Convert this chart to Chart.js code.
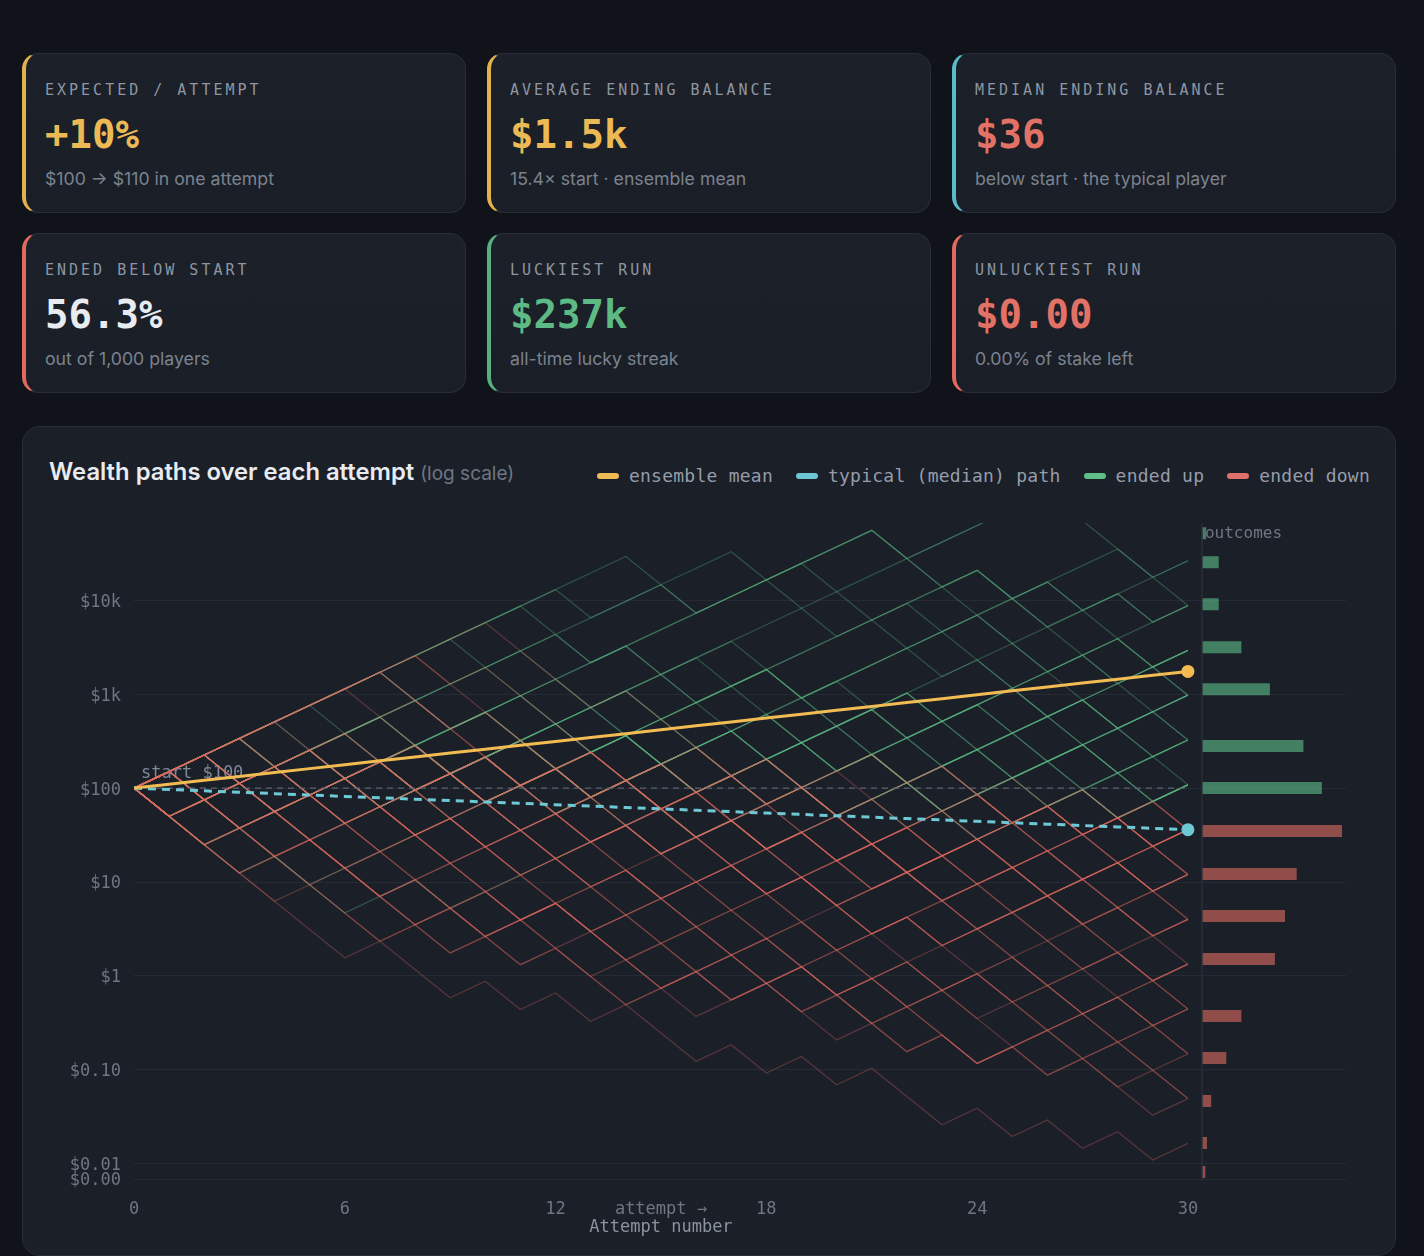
<!DOCTYPE html>
<html>
<head>
<meta charset="utf-8">
<script src="https://cdn.jsdelivr.net/npm/chart.js@4.4.1/dist/chart.umd.min.js"></script>
<style>
  body{margin:0;background:#10131a;width:1424px;height:1256px;overflow:hidden;font-family:Inter,"Noto Sans",sans-serif;position:relative;}
  .card{position:absolute;width:444px;height:160px;box-sizing:border-box;border:1px solid #282e38;border-left:4px solid #e3b24f;border-radius:16px;background:linear-gradient(180deg,#1b2029,#1a1e27);padding:27px 0 0 19px;}
  .lbl{font-family:"DejaVu Sans Mono",monospace;font-size:15px;line-height:18px;letter-spacing:3px;color:#8e96a3;}
  .val{font-family:"DejaVu Sans Mono",monospace;font-weight:bold;font-size:39px;line-height:46px;margin-top:13px;}
  .sub{font-size:17.7px;line-height:20px;margin-top:11px;color:#7b838f;}
  .panel{position:absolute;left:22px;top:426px;width:1374px;height:830px;box-sizing:border-box;border:1px solid #282e38;border-radius:18px;background:#1b1f28;}
  .title{position:absolute;left:49px;top:457px;font-size:23.8px;font-weight:600;color:#e8ebf0;line-height:30px;}
  .title span{font-size:19px;font-weight:400;color:#6e7682;}
  .legend{position:absolute;right:54px;top:464px;display:flex;align-items:center;font-family:"DejaVu Sans Mono",monospace;font-size:18px;line-height:24px;letter-spacing:.24px;color:#959daa;}
  .legend i{display:block;width:22px;height:6px;border-radius:3px;margin:0 10px 0 23px;}
  .legend i:first-child{margin-left:0;}
  canvas{position:absolute;left:40px;top:500px;}
</style>
</head>
<body>
<div class="card" style="left:22px;top:53px;border-left-color:#e3b24f"><div class="lbl">EXPECTED / ATTEMPT</div><div class="val" style="color:#ecba55">+10%</div><div class="sub">$100 → $110 in one attempt</div></div>
<div class="card" style="left:487px;top:53px;border-left-color:#e3b24f"><div class="lbl">AVERAGE ENDING BALANCE</div><div class="val" style="color:#ecba55">$1.5k</div><div class="sub">15.4× start · ensemble mean</div></div>
<div class="card" style="left:952px;top:53px;border-left-color:#5bbcc9"><div class="lbl">MEDIAN ENDING BALANCE</div><div class="val" style="color:#e27266">$36</div><div class="sub">below start · the typical player</div></div>
<div class="card" style="left:22px;top:233px;border-left-color:#e06a5f"><div class="lbl">ENDED BELOW START</div><div class="val" style="color:#e8ebf0">56.3%</div><div class="sub">out of 1,000 players</div></div>
<div class="card" style="left:487px;top:233px;border-left-color:#57b17f"><div class="lbl">LUCKIEST RUN</div><div class="val" style="color:#5dba84">$237k</div><div class="sub">all-time lucky streak</div></div>
<div class="card" style="left:952px;top:233px;border-left-color:#e06a5f"><div class="lbl">UNLUCKIEST RUN</div><div class="val" style="color:#e27266">$0.00</div><div class="sub">0.00% of stake left</div></div>

<div class="panel"></div>
<div class="title">Wealth paths over each attempt <span>(log scale)</span></div>
<div class="legend"><i style="background:#efbb55"></i><span>ensemble mean</span><i style="background:#6cc6d4"></i><span>typical (median) path</span><i style="background:#5fbf88"></i><span>ended up</span><i style="background:#e0706a"></i><span>ended down</span></div>
<canvas id="wealth" width="1340" height="745"></canvas>

<script>
// game: +50% on a win, -50% on a loss, start with $100
const START = 100, UP = 1.5, DOWN = 0.5;

const attempts = [0,1,2,3,4,5,6,7,8,9,10,11,12,13,14,15,16,17,18,19,20,21,22,23,24,25,26,27,28,29,30];

// ensemble mean and typical (median) path, per attempt
const meanPath = [100,110,121,133.1,146.4,161.1,177.2,194.9,214.4,235.8,259.4,285.3,313.8,345.2,379.7,417.7,
  459.5,505.4,556,611.6,672.7,740,814,895.4,985,1083.5,1191.8,1311,1442.1,1586.3,1744.9];
const medianPath = [100,96.66,93.43,90.31,87.29,84.37,81.55,78.83,76.19,73.65,71.19,68.81,66.51,64.28,62.14,60.06,
  58.05,56.11,54.24,52.43,50.67,48.98,47.35,45.76,44.23,42.76,41.33,39.95,38.61,37.32,36.08];

// sample players, U = win, D = loss, one letter per attempt
const paths = [
  'DDDDD DUDDU DUDUD DUDUD UDDUD UDUDU',
  'DDDDU DDUDU DUDDU UDUDD UDUDU DUDDU',
  'DUDDD DDUDU UDDDU DUUDU DDUDU DUDUD',
  'UDDDD UDDUD DUDUU DUDDU UDUUD DUDUD',
  'DDUDU DDDUD UDUDD UDUUD DUDDU UDUDU',
  'DUDUD DDUDD UUDUD DUDUD UUDUD DUUDU',
  'UUDDD DUDDU UDDUD UDUUD DDUDU UDUDU',
  'DDDUU DUDUD DUDDU UDUDU DUDUD UDUUD',
  'UDUDD UDUDU DDUDU UDUDD UUDUD UDUDU',
  'UUDUD DDUDU UDDUD DUUDU DUDUU DDUDU',
  'DUUUD UDDDU DUDUD UDDUD UUDDU DUUUD',
  'UDUUD DUDUD UUDDU DUDUU DUDUD UUDDU',
  'UUUDU DUDDD UDUUD UDUDD UUDUD DUUDU',
  'DUDUU UDDUD DUDUD UUDUD DUUDU UDUDU',
  'UUDUU UUDDD DUDUU DUDUD UDUUD UDUDU',
  'UUUUU UDUDD DUDDD UUDUD UDUUD UUDUD',
  'UDUUD UUDUD DUDUU DUDUD UDUDU DUUDU',
  'DUUDU UDUUD UDDUD UUDUU DUDUU DUDUD',
  'UUUUU UUUDD DDUDD DUDUD UDUDU UDUDU',
  'UUUUU UUUUU DDDUD DDUDU UDUDU DUDDU',
  'UDUUU DUDUU DUUDU UDUDD UUDUD UDUUD',
  'UUDUD UUDUU DUDUD UDUUD DUDUU UDUUD',
  'DUUDU UUDUD UUDUU DUDUD UDUUD UDDUU',
  'UUUDU DUUDU UDUDU UDUDU DUUDD DUUDU',
  'UUUUU UUDDU DDUDU DUDUU UDUDD UDUDU',
  'DDUUU DUUDU UDUDD UUDUD DUUDU DUUUD',
  'DDUUD DDDUU DUDDD UUDUD UDUDD UUDUD',
  'DUDDU UUDDD DUUDU DDUDU UDUUD DUDUD',
  'UUDDU DDUUU DDDUD UUDUD DUUDU UDDDU',
  'UDDUU DUUDD UDUUU DDDUD UUDUU DUDUD',
  'DDUUU UDDUD DUUDD UUUDD DUDUU UDUDU',
  'UUUDD DUUUD DUDUU UDDUU DDUUD UDUDU',
  'DUUUU DDDUU DUUUD DDUDU UUDUD UDUDU',
  'UUUUD DUUDD UUUDD UDUUD DUDUU UUDDU',
  'UDUUU UDDUU DDUUU DUDUD DUUUD UDUDU',
  'DUUDU UUUDD UUDUD UUDDU UDUDU DUUUD',
  'UUUUU UUUDU DDDDD UDUDD UDUUD DUDUD',
  'UUUUU UUDDD DDUDD UDDUU DUDDU UDDDU',
  'UDUDD DDUUD DUDUU DUDDD UUDUU DDUDU',
  'DDDUU UUDUD UDUUD DUDUD UUDUU DUUDU',
  'UDDUD DDUDD UUDDD UDUUD DUDDU UDUDD',
  'UUDUU UDDUU DUDUD UUUDD DUUDU UDUDU',
  'UUUUU UUUUU UUUUD DUUUD UUDUD UDUDU',
  'UUDUU UUUUU DUUUU UUUUU UDUUU UUDUU',
  'UUUUU UUUUD UUUUU UUDUU UDDUD DUDUU',
  'UUDUU UDUUU UUDUU UDUUU UUUDU DUUUU',
  'UDUUU UUDUU DUUUD UUUDU UUDUD UUUDU',
  'DUUUU DUUUU UDUUU DUUDU UUUUD DUUDU',
  'UUDUD UUUDU UDUUD UUUUD UDUDU UUDUU',
  'DUUDU UUDUU UUUDD UDUUU DUUUD UDUUU',
  'UUUDD UUDUU DUUUD UUDUU DUUUU UDUDU',
  'UDUDU UUDUU DUDUU UUDUD UDUUU DUUDU',
  'DUUUD UDUUU UDUUD DUUDU UUDUU UDUUD',
  'UUUDU DUDUU UUDUD UUUDD UDUUD UUDUU',
  'DDDUD DUUDU UUUUD UUDUU UUUDU UUDUU',
  'UDUUD UDUDU UUDUD DUUUD UDUDU UUDUU',
  'UUDUU DUDUD UUDUU DUDUU UDUDU DUUDU',
  'DUDUU UDUUD UDUDU UUDUD UUDUU DUDUU',
  'UDDUU UUUDU DUDUU DUUDU UUDUD UDUDU',
  'UUUUU UUDUU UDUUD UUDUU UDUUD UDUDU',
  'UUUUU DUUUU UUDUU UUUDU DUUUD UUUDU',
  'UUDUU DUUDU UUDUD UDUUU UDUDU UUDUU',
  'UUUDU UDDUU DUUDU UDUDD UUDUU UDUDU',
  'DUUDD UUUUD UDUUU DUDUD UUDUD UUDUU',
  'UUDDU UUUDU UDDUU UUDUD UDUUU DUUDU',
  'DDUUU UDUUD UUDUU DUUUD UDDUU UUDUU',
  'UUUDU UUDDU UUUDU UDUDU UUDUU DUUUD',
  'UDUUU DUUUU DDUUU UUDUD UDUUU DUDUU',
  'UUUUD UUUDU UUDUD UUUDU DUUUU DUDUU',
  'DUUUU UUDUU UDUUU DUUDU UUUDD UUDUU',
  'UUUUU UUUUU UDDUD UUUUD UUDUU UDUDU',
  'UUUUU UUUUU UUDUU DUUUU UDUUU UDDDD',
  'UUUUU UUDDU DDUUU DUDUU UUDUD UUDUD',
  'UDUDU DUUUD UUDUD DUUUD UUDDU UUDUU',
  'DUDUU UUUDU UUDUU DUUDU UUDUU DUUUD',
  'DDUDD UUUUU DUUUU DUUDU UDUUD UUDUD'
];

// outcome histogram (right margin): balance level of each bar and players in it
const histLevels = [51640,25360,9060,3162,1130,280,100,34.9,12.2,4.35,1.52,0.375,0.134,0.0468,0.0167,0.0082];
const histCounts = [5,20,20,47,81,121,143,167,113,99,87,47,29,11,6,4];

const yTickValues = [0.0069,0.01,0.1,1,10,100,1000,10000];
const yTickLabels = ['$0.00','$0.01','$0.10','$1','$10','$100','$1k','$10k'];
const xTickValues = [0,6,12,15,18,24,30];

const MONO = '"DejaVu Sans Mono", monospace';
const GREEN = 'rgba(95,191,136,', RED = 'rgba(224,108,96,';
const Y_MIN = 0.0069, Y_MAX = 66000, X_MAX = 34.5;
const HIST_ORIGIN = 30.4, HIST_PER_STEP = 41.9;

function walk(moves){
  let w = START;
  const pts = [{x:attempts[0], y:w}];
  moves.replace(/ /g,'').split('').forEach((m,i)=>{
    w *= (m === 'U' ? UP : DOWN);
    pts.push({x:attempts[i+1], y:w});
  });
  return pts;
}

const datasets = [];

datasets.push({
  data: meanPath.map((v,i)=>({x:attempts[i],y:v})),
  borderColor:'#f2bc52', backgroundColor:'#f2bc52', borderWidth:3,
  pointRadius: meanPath.map((v,i)=> i===meanPath.length-1 ? 5 : 0), order:0
});
datasets.push({
  data: medianPath.map((v,i)=>({x:attempts[i],y:v})),
  borderColor:'#6ec8d6', backgroundColor:'#6ec8d6', borderWidth:3, borderDash:[8,6],
  pointRadius: medianPath.map((v,i)=> i===medianPath.length-1 ? 5 : 0), order:1
});
datasets.push({
  data:[{x:0,y:START},{x:30,y:START}],
  borderColor:'#5b6270', borderWidth:1.3, borderDash:[6,5], order:2
});
// histogram axis line
datasets.push({
  xAxisID:'xh', data:[{x:0,y:Y_MAX},{x:0,y:Y_MIN}],
  borderColor:'#2a303b', borderWidth:1.5, order:3
});
histLevels.forEach((lvl,i)=>{
  const c = (lvl >= START ? GREEN : RED) + '0.6)';
  datasets.push({
    xAxisID:'xh', data:[{x:0,y:lvl},{x:histCounts[i],y:lvl}],
    borderColor:c, borderWidth:12, borderCapStyle:'butt', order:4
  });
});
paths.forEach(p=>{
  const pts = walk(p);
  const up = pts[pts.length-1].y > START;
  datasets.push({
    data: pts, borderColor:(up ? GREEN : RED) + '0.31)', borderWidth:1.3, order:10
  });
});

const labels = {
  id:'labels',
  beforeDatasetsDraw(c){
    const {ctx, scales:{x,y}} = c;
    ctx.save();
    ctx.font = '17px ' + MONO;
    ctx.fillStyle = '#80889a';
    ctx.textBaseline = 'middle';
    ctx.fillText('start $100', x.getPixelForValue(0)+7, y.getPixelForValue(START)-15);
    ctx.restore();
  },
  afterDraw(c){
    const {ctx, chartArea, scales:{x,xh}} = c;
    ctx.save();
    ctx.textBaseline = 'middle';
    ctx.font = '16px ' + MONO;
    ctx.fillStyle = '#6e7682';
    ctx.fillText('outcomes', xh.getPixelForValue(0)+3, chartArea.top+11);
    ctx.font = '17px ' + MONO;
    ctx.fillStyle = '#8b93a0';
    ctx.textAlign = 'center';
    ctx.fillText('Attempt number', x.getPixelForValue(15), chartArea.bottom+49);
    ctx.restore();
  }
};

new Chart(document.getElementById('wealth'), {
  type:'line',
  data:{datasets},
  options:{
    responsive:false,
    animation:false,
    layout:{padding:{top:23,right:34,left:0,bottom:0}},
    plugins:{legend:{display:false}, tooltip:{enabled:false}},
    elements:{point:{radius:0}, line:{tension:0}},
    scales:{
      x:{
        type:'linear', min:0, max:X_MAX,
        grid:{display:false, drawTicks:false}, border:{display:false},
        afterBuildTicks:s=>{ s.ticks = xTickValues.map(v=>({value:v})); },
        afterFit:s=>{ s.height = 66; },
        ticks:{color:'#6e7682', font:{family:MONO,size:17}, padding:20, maxRotation:0, autoSkip:false,
          callback:v=> v===15 ? 'attempt →' : String(v)}
      },
      xh:{
        type:'linear', display:false,
        min:-HIST_ORIGIN*HIST_PER_STEP, max:(X_MAX-HIST_ORIGIN)*HIST_PER_STEP
      },
      y:{
        type:'logarithmic', min:Y_MIN, max:Y_MAX,
        grid:{color:'#252a34', drawTicks:false}, border:{display:false},
        afterBuildTicks:s=>{ s.ticks = yTickValues.map(v=>({value:v})); },
        afterFit:s=>{ s.width = 94; },
        ticks:{color:'#6e7682', font:{family:MONO,size:17}, padding:13, autoSkip:false, labelOffset:2,
          callback:(v,i)=> yTickLabels[i]}
      }
    }
  },
  plugins:[labels]
});
</script>
</body>
</html>
